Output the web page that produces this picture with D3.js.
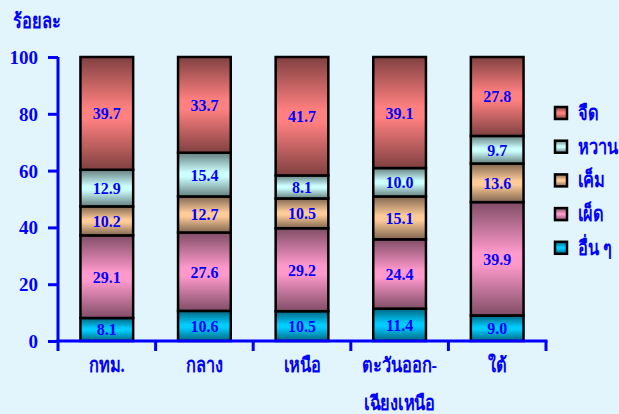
<!DOCTYPE html>
<html><head><meta charset="utf-8">
<script src="https://cdn.jsdelivr.net/npm/d3@7"></script>
<style>
html,body{margin:0;padding:0;background:#e3f5fc;}
svg{display:block;}
text{font-family:"Liberation Serif","Times New Roman",serif;font-weight:bold;fill:#0000ff;}
</style></head>
<body>
<script>
const categories = [["กทม."], ["กลาง"], ["เหนือ"], ["ตะวันออก-", "เฉียงเหนือ"], ["ใต้"]];
const seriesNames = ["อื่น ๆ", "เผ็ด", "เค็ม", "หวาน", "จืด"];
const others = [8.1, 10.6, 10.5, 11.4, 9.0];
const spicy = [29.1, 27.6, 29.2, 24.4, 39.9];
const salty = [10.2, 12.7, 10.5, 15.1, 13.6];
const sweet = [12.9, 15.4, 8.1, 10.0, 9.7];
const bland = [39.7, 33.7, 41.7, 39.1, 27.8];
const yTicks = [0, 20, 40, 60, 80, 100];
const yTitle = "ร้อยละ";

const seriesValues = [others, spicy, salty, sweet, bland];
const lightColors = ["#00ccff", "#ff99cc", "#ffcc99", "#ccffff", "#ff8080"];
const darkColors = ["#006680", "#804d66", "#806650", "#668080", "#804040"];

const W = 619, H = 414;
const margin = {left: 58, right: 73, top: 57, bottom: 73};
const svg = d3.select("body").append("svg").attr("width", W).attr("height", H);
const defs = svg.append("defs");
lightColors.forEach((c, i) => {
  const g = defs.append("linearGradient").attr("id", "g" + i)
    .attr("x1", 0).attr("y1", 0).attr("x2", 0).attr("y2", 1);
  g.append("stop").attr("offset", "0%").attr("stop-color", darkColors[i]);
  g.append("stop").attr("offset", "45%").attr("stop-color", c);
  g.append("stop").attr("offset", "55%").attr("stop-color", c);
  g.append("stop").attr("offset", "100%").attr("stop-color", darkColors[i]);
});

// Thai text helper: slightly condensed to match the narrow Thai face of the reference
function thaiText(px, py, str, anchor) {
  return svg.append("text")
    .attr("transform", `translate(${px},${py}) scale(0.86,1.05)`)
    .attr("text-anchor", anchor || "start")
    .style("font-size", "19px").text(str);
}

const x = d3.scaleBand().domain(d3.range(categories.length))
  .range([margin.left, W - margin.right]).paddingInner(0.46).paddingOuter(0.23);
const xb = d3.scaleBand().domain(d3.range(categories.length))
  .range([margin.left, W - margin.right]);
const y = d3.scaleLinear().domain([0, 100]).range([H - margin.bottom, margin.top]);

const table = categories.map((c, i) => {
  const o = {i};
  seriesNames.forEach((s, k) => o[s] = seriesValues[k][i]);
  return o;
});
const stacked = d3.stack().keys(seriesNames)(table);

stacked.forEach((layer, k) => {
  const g = svg.append("g");
  g.selectAll("rect").data(layer).join("rect")
    .attr("x", d => x(d.data.i))
    .attr("width", x.bandwidth())
    .attr("y", d => y(d[1]))
    .attr("height", d => y(d[0]) - y(d[1]))
    .attr("fill", `url(#g${k})`)
    .attr("stroke", "#000").attr("stroke-width", 2.5);
  g.selectAll("text").data(layer).join("text")
    .attr("x", d => x(d.data.i) + x.bandwidth() / 2)
    .attr("y", d => (y(d[0]) + y(d[1])) / 2 + 6)
    .attr("text-anchor", "middle")
    .style("font-size", "16px")
    .text(d => d3.format(".1f")(d[1] - d[0]));
});

// Y axis
const yAxis = svg.append("g").attr("transform", `translate(${margin.left},0)`)
  .call(d3.axisLeft(y).tickValues(yTicks).tickSize(10).tickPadding(10).tickFormat(d3.format("d")));
yAxis.select(".domain").attr("stroke", "#0000ff").attr("stroke-width", 3).attr("d", `M0,${y(100)}V${y(0)}`);
yAxis.selectAll(".tick line").attr("stroke", "#0000ff").attr("stroke-width", 3);
yAxis.selectAll(".tick text").style("font-size", "19px").attr("fill", "#0000ff")
  .attr("dy", "0.34em").attr("font-family", null);

// X axis
const xAxisG = svg.append("g");
xAxisG.append("line").attr("x1", margin.left - 1.5).attr("x2", W - margin.right + 1.5)
  .attr("y1", y(0)).attr("y2", y(0)).attr("stroke", "#0000ff").attr("stroke-width", 3);
const bounds = d3.range(categories.length + 1).map(i => i < categories.length ? xb(i) : xb(i - 1) + xb.bandwidth());
xAxisG.selectAll("line.t").data(bounds).join("line").attr("class", "t")
  .attr("x1", d => d).attr("x2", d => d)
  .attr("y1", y(0)).attr("y2", y(0) + 10)
  .attr("stroke", "#0000ff").attr("stroke-width", 3);
categories.forEach((lines, i) => {
  lines.forEach((l, j) => {
    thaiText(xb(i) + xb.bandwidth() / 2, 372 + j * 38, l, "middle");
  });
});

// Title
thaiText(13, 28, yTitle);

// Legend
const legendOrder = [4, 3, 2, 1, 0];
legendOrder.forEach((k, j) => {
  const ly = 113 + j * 33.7;
  svg.append("rect").attr("x", 555).attr("y", ly - 6).attr("width", 12).attr("height", 12)
    .attr("fill", `url(#g${k})`).attr("stroke", "#000").attr("stroke-width", 2.5);
  thaiText(578, ly + 7, seriesNames[k]);
});
</script>
</body></html>
